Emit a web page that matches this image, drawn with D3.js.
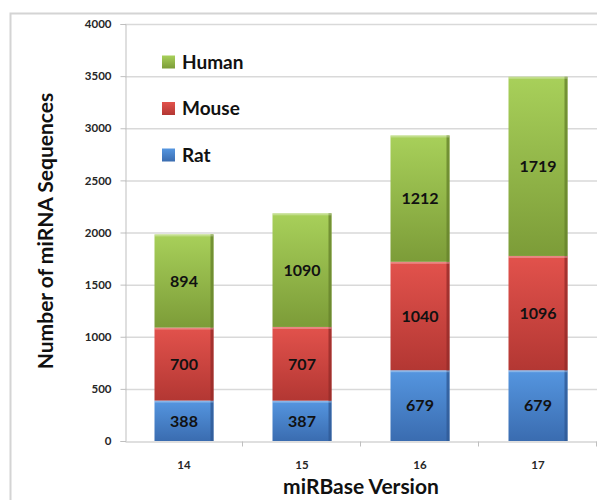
<html>
<head>
<script src="https://d3js.org/d3.v7.min.js"></script>
<style>
  body { margin: 0; background: #fff; }
  text { font-family: Lato, "Open Sans", sans-serif; font-weight: bold; }
</style>
</head>
<body>
<script>
const versions = ['14', '15', '16', '17'];
const species = ['Rat', 'Mouse', 'Human'];
const rat = [388, 387, 679, 679];
const mouse = [700, 707, 1040, 1096];
const human = [894, 1090, 1212, 1719];
const yTicks = [0, 500, 1000, 1500, 2000, 2500, 3000, 3500, 4000];

const w = 597, h = 500;
const plotLeft = 125, plotRight = 597, plotTop = 24, plotBottom = 441;

const colors = {
  Rat: ['#5596e0', '#3a6cb0', '#2f5a96'],
  Mouse: ['#e2524c', '#b33733', '#962c29'],
  Human: ['#a8d05a', '#7c9c38', '#66832c']
};

const rows = versions.map((v, i) => ({ version: v, Rat: rat[i], Mouse: mouse[i], Human: human[i] }));
const stacked = d3.stack().keys(species)(rows);

const svg = d3.select('body').append('svg')
  .attr('width', w)
  .attr('height', h);

const defs = svg.append('defs');
species.forEach(s => {
  const g = defs.append('linearGradient')
    .attr('id', 'grad-' + s)
    .attr('x1', 0).attr('y1', 0).attr('x2', 0).attr('y2', 1);
  g.append('stop').attr('offset', '0%').attr('stop-color', colors[s][0]);
  g.append('stop').attr('offset', '100%').attr('stop-color', colors[s][1]);
});

// outer frame
svg.append('path')
  .attr('d', 'M10.5,' + h + 'V13.5H' + w)
  .attr('fill', 'none')
  .attr('stroke', '#d4d4d4')
  .attr('stroke-width', 2);

const x = d3.scaleBand()
  .domain(versions)
  .range([plotLeft, plotRight])
  .paddingInner(0.5)
  .paddingOuter(0.25);

const y = d3.scaleLinear()
  .domain([0, 4000])
  .range([plotBottom, plotTop]);

// gridlines
svg.append('g')
  .selectAll('line')
  .data(yTicks.slice(1))
  .enter()
  .append('line')
  .attr('x1', plotLeft).attr('x2', plotRight)
  .attr('y1', d => y(d) + 0.5).attr('y2', d => y(d) + 0.5)
  .attr('stroke', '#d9d9d9')
  .attr('stroke-width', 1.5);

// y axis
const yAxis = svg.append('g')
  .attr('transform', 'translate(' + (plotLeft + 0.5) + ',0)')
  .call(d3.axisLeft(y).tickValues(yTicks).tickFormat(d3.format('d')).tickSize(5).tickPadding(9));
yAxis.select('.domain').attr('stroke', '#bfbfbf');
yAxis.selectAll('.tick line').attr('stroke', '#bfbfbf');
yAxis.selectAll('text').attr('font-size', 11.5).attr('fill', '#262626')
  .style('font-family', 'Lato, sans-serif').style('font-weight', 'bold');

// x axis
const step = x.step();
const xAxis = svg.append('g')
  .attr('transform', 'translate(0,' + (plotBottom + 0.5) + ')')
  .call(d3.axisBottom(x).tickSize(0).tickPadding(19));
xAxis.select('.domain').attr('stroke', '#bfbfbf');
xAxis.selectAll('text').attr('font-size', 11.5).attr('fill', '#262626')
  .style('font-family', 'Lato, sans-serif').style('font-weight', 'bold');
xAxis.selectAll('.sep')
  .data(versions)
  .enter()
  .append('line')
  .attr('x1', (d, i) => plotLeft + step * (i + 1) - 0.5)
  .attr('x2', (d, i) => plotLeft + step * (i + 1) - 0.5)
  .attr('y1', 0).attr('y2', 5)
  .attr('stroke', '#bfbfbf');

// bars
const layers = svg.append('g')
  .selectAll('g')
  .data(stacked)
  .enter()
  .append('g');

const seg = layers.selectAll('g')
  .data(d => d.map(p => ({ key: d.key, p: p })))
  .enter()
  .append('g');

seg.append('rect')
  .attr('x', d => x(d.p.data.version))
  .attr('y', d => y(d.p[1]))
  .attr('width', x.bandwidth())
  .attr('height', d => y(d.p[0]) - y(d.p[1]))
  .attr('fill', d => 'url(#grad-' + d.key + ')');

// right edge shading
seg.append('rect')
  .attr('x', d => x(d.p.data.version) + x.bandwidth() - 3)
  .attr('y', d => y(d.p[1]))
  .attr('width', 3)
  .attr('height', d => y(d.p[0]) - y(d.p[1]))
  .attr('fill', d => colors[d.key][2])
  .attr('opacity', 0.8);

// top highlight
seg.append('rect')
  .attr('x', d => x(d.p.data.version))
  .attr('y', d => y(d.p[1]))
  .attr('width', x.bandwidth())
  .attr('height', 2)
  .attr('fill', '#ffffff')
  .attr('opacity', 0.3);

seg.append('text')
  .attr('x', d => x(d.p.data.version) + x.bandwidth() / 2)
  .attr('y', d => (y(d.p[0]) + y(d.p[1])) / 2)
  .attr('dy', '0.36em')
  .attr('text-anchor', 'middle')
  .attr('font-size', 16)
  .attr('fill', '#111')
  .text(d => d.p[1] - d.p[0]);

// legend
const legend = svg.append('g')
  .selectAll('g')
  .data(species.slice().reverse())
  .enter()
  .append('g')
  .attr('transform', (d, i) => 'translate(162,' + (62 + i * 46.5) + ')');

legend.append('rect')
  .attr('x', 0).attr('y', -6.5)
  .attr('width', 13).attr('height', 13)
  .attr('fill', d => 'url(#grad-' + d + ')');

legend.append('text')
  .attr('x', 20)
  .attr('dy', '0.36em')
  .attr('font-size', 19)
  .attr('fill', '#111')
  .text(d => d);

// axis titles
svg.append('text')
  .attr('transform', 'translate(53,231) rotate(-90)')
  .attr('text-anchor', 'middle')
  .attr('font-size', 21)
  .attr('fill', '#111')
  .text('Number of miRNA Sequences');

svg.append('text')
  .attr('x', 361)
  .attr('y', 494)
  .attr('text-anchor', 'middle')
  .attr('font-size', 21)
  .attr('fill', '#111')
  .text('miRBase Version');
</script>
</body>
</html>
